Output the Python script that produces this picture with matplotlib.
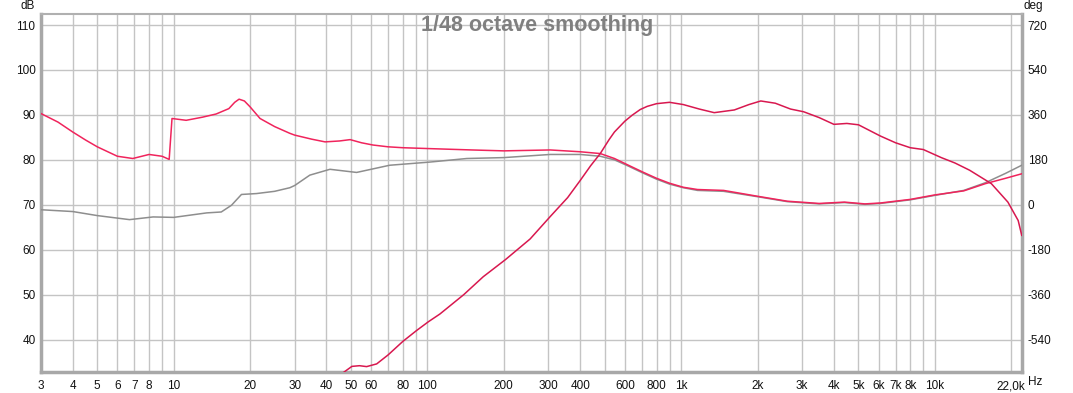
import numpy as np
import matplotlib.pyplot as plt
from matplotlib.ticker import FixedLocator, FixedFormatter, NullLocator

plt.rcParams['font.family'] = ['Liberation Sans', 'DejaVu Sans']
plt.rcParams['axes.unicode_minus'] = False

# curva roja superior
f_a = [3, 3.5, 4.0, 4.5, 5.0, 6.0, 6.9, 8.0, 9.0, 9.6, 9.85, 11.2, 13, 14.7, 16.5, 17.4, 18.1,
       19, 20, 21.9, 25, 28.7, 30, 35, 39.5, 45, 49.6, 55, 61, 70, 80, 102, 150, 200, 305,
       400, 480, 546, 620, 705, 800, 900, 1020, 1160, 1470, 2000, 2620, 3500, 4400, 5300,
       6100, 8000, 10000, 13000, 15800, 19000, 22000]
db_a = [90.3, 88.4, 86.2, 84.4, 82.9, 80.8, 80.3, 81.2, 80.8, 80.1, 89.2, 88.8, 89.5, 90.2, 91.4,
        92.8, 93.5, 93.1, 91.8, 89.2, 87.4, 85.9, 85.5, 84.6, 84.0, 84.2, 84.5, 83.8, 83.3, 82.9,
        82.7, 82.5, 82.2, 82.0, 82.2, 81.8, 81.4, 80.3, 78.8, 77.3, 75.9, 74.8, 73.9, 73.4, 73.2,
        71.9, 70.8, 70.3, 70.6, 70.2, 70.4, 71.2, 72.2, 73.1, 74.7, 75.9, 76.9]

# curva gris
f_g = [3, 4, 5, 6.7, 8.3, 10, 13.5, 15.4, 16.9, 18.5, 21.2, 25, 28.7, 30, 34.4, 41.3, 52.6,
       71, 102, 143, 200, 305, 400, 480, 546, 620, 705, 800, 900, 1020, 1160, 1470, 2000, 2620,
       3500, 4400, 5300, 6100, 8000, 10000, 13000, 15800, 19000, 22000]
db_g = [68.9, 68.5, 67.6, 66.7, 67.3, 67.2, 68.2, 68.4, 69.9, 72.3, 72.5, 73.0, 73.8, 74.3, 76.6,
        77.9, 77.2, 78.8, 79.5, 80.3, 80.5, 81.2, 81.2, 80.8, 80.0, 78.6, 77.1, 75.7, 74.6, 73.8,
        73.2, 73.0, 71.8, 70.7, 70.2, 70.5, 70.1, 70.3, 71.1, 72.1, 73.2, 74.9, 77.0, 78.8]

# curva roja creciente
f_b = [46.7, 50.4, 54, 57.6, 63.1, 70, 80, 90.5, 101, 112, 139, 166, 203, 254, 305, 357, 400,
       440, 480, 520, 546, 600, 640, 690, 735, 800, 900, 1020, 1180, 1350, 1620, 1850, 2060,
       2350, 2700, 3040, 3500, 4000, 4500, 5000, 5500, 6100, 7000, 8000, 9000, 10600, 12000,
       13700, 16700, 19400, 21300, 22000]
db_b = [32.7, 34.05, 34.2, 34.0, 34.6, 36.6, 39.6, 42.0, 44.0, 45.7, 50.0, 54.0, 57.8, 62.4, 67.4,
        71.6, 75.4, 78.7, 81.4, 84.5, 86.2, 88.6, 89.9, 91.2, 91.9, 92.5, 92.8, 92.3, 91.3, 90.5,
        91.1, 92.3, 93.1, 92.6, 91.3, 90.7, 89.4, 87.9, 88.1, 87.8, 86.6, 85.3, 83.8, 82.7, 82.3,
        80.5, 79.3, 77.7, 74.7, 70.6, 66.5, 63.2]

x_ticks = [3, 4, 5, 6, 7, 8, 10, 20, 30, 40, 50, 60, 80, 100, 200, 300, 400, 600, 800,
           1000, 2000, 3000, 4000, 5000, 6000, 7000, 8000, 10000, 20000]
x_labels = ['3', '4', '5', '6', '7', '8', '10', '20', '30', '40', '50', '60', '80', '100',
            '200', '300', '400', '600', '800', '1k', '2k', '3k', '4k', '5k', '6k', '7k', '8k',
            '10k', '22,0k']
deg_ticks = [-540, -360, -180, 0, 180, 360, 540, 720]

fig = plt.figure(figsize=(10.73, 3.93), dpi=100)
ax = fig.add_axes([41/1073, 21/393, 981/1073, 358/393])

# rejilla vertical en cada multiplo entero
grid_x = [m * 10**d for d in range(0, 5) for m in range(1, 10) if 3 <= m * 10**d <= 20000]
for gx in grid_x:
    ax.axvline(gx, color='#c4c4c4', lw=1, zorder=1)
for gy in range(40, 111, 10):
    ax.axhline(gy, color='#c4c4c4', lw=1, zorder=1)

ax.plot(f_g, db_g, color='#8e8e8e', lw=1.1, zorder=3)
ax.plot(f_a, db_a, color='#f0245c', lw=1.1, zorder=4)
ax.plot(f_b, db_b, color='#d8184f', lw=1.1, zorder=5)

ax.set_xscale('log')
ax.set_xlim(3, 22050)
ax.set_ylim(32.8, 112.45)
ax.xaxis.set_major_locator(FixedLocator(x_ticks))
ax.xaxis.set_major_formatter(FixedFormatter(x_labels))
ax.xaxis.set_minor_locator(NullLocator())
ax.set_yticks(range(40, 111, 10))
ax.tick_params(length=0, labelsize=8.5, colors='#111111', pad=6)
ax.tick_params(axis='y', pad=4)

ax2 = ax.secondary_yaxis('right', functions=(lambda d: (d - 70) * 18, lambda p: p / 18 + 70))
ax2.set_yticks(deg_ticks)
ax2.tick_params(length=0, labelsize=8.5, colors='#111111', pad=4)

for s in ['left', 'bottom', 'right']:
    ax.spines[s].set_color('#a8a8a8')
    ax.spines[s].set_linewidth(2.5)
ax.spines['top'].set_color('#b0b0b0')
ax.spines['top'].set_linewidth(1.5)
ax2.spines['right'].set_visible(False)

fig.text(28/1073, 1 - 6/393, 'dB', fontsize=8.5, ha='center', va='center', color='#111111')
fig.text(1033/1073, 1 - 6/393, 'deg', fontsize=8.5, ha='center', va='center', color='#111111')
fig.text(1028/1073, 1 - 382/393, 'Hz', fontsize=8.5, ha='left', va='center', color='#111111')
fig.text(537/1073, 1 - 26/393, '1/48 octave smoothing', fontsize=15.5, fontweight='bold',
         ha='center', va='center', color='#808080', zorder=10)

fig.savefig('out.png', dpi=100)
